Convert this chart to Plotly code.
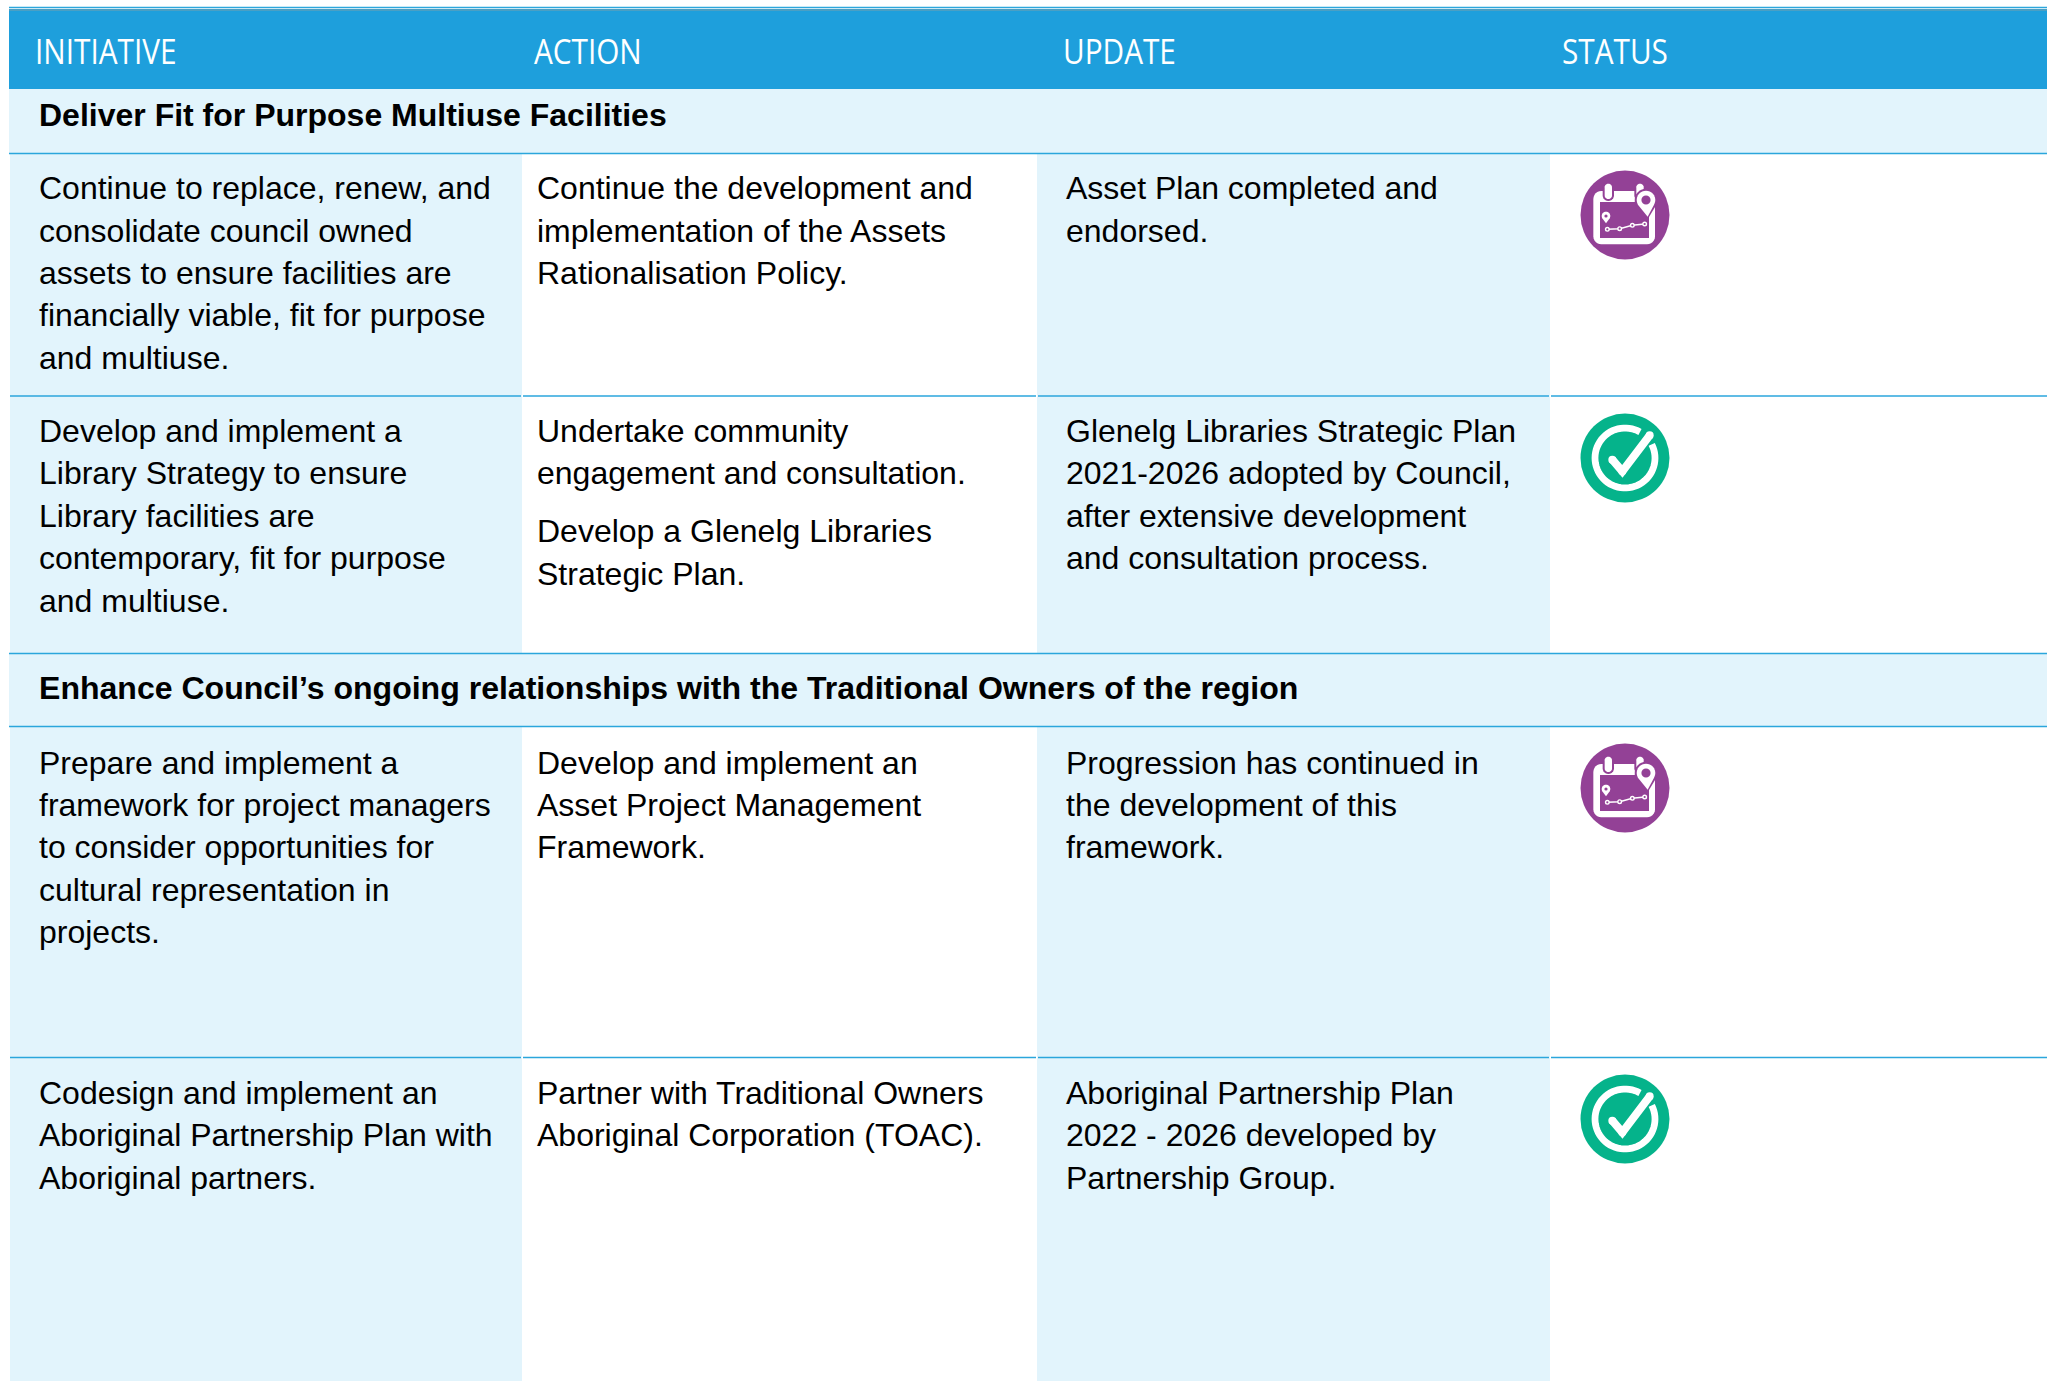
import math
import plotly.graph_objects as go

# ---- content ----
headers = ["INITIATIVE", "ACTION", "UPDATE", "STATUS"]
section_titles = ["Deliver Fit for Purpose Multiuse Facilities",
                  "Enhance Council’s ongoing relationships with the Traditional Owners of the region"]
initiatives = [
    ["Continue to replace, renew, and", "consolidate council owned", "assets to ensure facilities are",
     "financially viable, fit for purpose", "and multiuse."],
    ["Develop and implement a", "Library Strategy to ensure", "Library facilities are",
     "contemporary, fit for purpose", "and multiuse."],
    ["Prepare and implement a", "framework for project managers", "to consider opportunities for",
     "cultural representation in", "projects."],
    ["Codesign and implement an", "Aboriginal Partnership Plan with", "Aboriginal partners."],
]
actions = [
    ["Continue the development and", "implementation of the Assets", "Rationalisation Policy."],
    ["Undertake community", "engagement and consultation.", "", "Develop a Glenelg Libraries", "Strategic Plan."],
    ["Develop and implement an", "Asset Project Management", "Framework."],
    ["Partner with Traditional Owners", "Aboriginal Corporation (TOAC)."],
]
updates = [
    ["Asset Plan completed and", "endorsed."],
    ["Glenelg Libraries Strategic Plan", "2021-2026 adopted by Council,", "after extensive development",
     "and consultation process."],
    ["Progression has continued in", "the development of this", "framework."],
    ["Aboriginal Partnership Plan", "2022 - 2026 developed by", "Partnership Group."],
]
statuses = ["planned", "done", "planned", "done"]

# ---- layout constants ----
W, H = 2047, 1381
BLUE, LIGHT, RULE = "#1e9fdc", "#e2f4fc", "#2ba6dc"
PURPLE, GREEN = "#934196", "#05b38b"
col_edges = [10, 522, 1037, 1550]
text_x = [39, 537, 1066]
header_x = [35, 534, 1063, 1562]
row_tops = [153.5, 396, 726.5, 1057.5]
row_bottoms = [396, 653.5, 1057.5, H]
first_line = [188.2, 431, 762.5, 1092.7]
icon_y = [215, 458, 788, 1119]
ICON_X = 1625
LINE_H = 42.4
PARA_GAP = 15.5

shapes, annos = [], []


def rect(x0, y0, x1, y1, fill):
    shapes.append(dict(type="rect", x0=x0, y0=y0, x1=x1, y1=y1, fillcolor=fill, line_width=0, layer="below"))


def line(x0, x1, y, w=1.3):
    shapes.append(dict(type="line", x0=x0, x1=x1, y0=y, y1=y, line=dict(color=RULE, width=w), layer="below"))


def circle(cx, cy, r, fill):
    shapes.append(dict(type="circle", x0=cx - r, x1=cx + r, y0=cy - r, y1=cy + r, fillcolor=fill, line_width=0))


def poly(pts, color, width=None, fill=None):
    p = "M" + " L".join(f"{x:.2f},{y:.2f}" for x, y in pts)
    if fill:
        shapes.append(dict(type="path", path=p + " Z", fillcolor=fill, line_width=0))
    else:
        shapes.append(dict(type="path", path=p, line=dict(color=color, width=width)))


def rrect(x0, y0, x1, y1, r, fill):
    pts = []
    for cx, cy, a in [(x1 - r, y0 + r, -90), (x1 - r, y1 - r, 0), (x0 + r, y1 - r, 90), (x0 + r, y0 + r, 180)]:
        for k in range(7):
            t = math.radians(a + 15 * k)
            pts.append((cx + r * math.cos(t), cy + r * math.sin(t)))
    poly(pts, None, fill=fill)


def pin(cx, cy, r, tip, fill, hole):
    pts = []
    for k in range(21):
        t = math.radians(150 + 240 * k / 20)
        pts.append((cx + r * math.cos(t), cy + r * math.sin(t)))
    pts.append(tip)
    poly(pts, None, fill=fill)
    if hole:
        circle(cx, cy, hole, PURPLE)


def label(x, y, s, size, color="#000000", family="Liberation Sans", bold=False):
    annos.append(dict(x=x, y=y, text=f"<b>{s}</b>" if bold else s, xanchor="left", yanchor="middle",
                      showarrow=False, borderpad=0, borderwidth=0,
                      font=dict(size=size, color=color, family=family)))


def planned_icon(cx, cy):
    circle(cx, cy, 44.5, PURPLE)
    u = lambda x, y: (cx + (x - 150) / 3, cy + (y - 147) / 3)
    x0, y0 = u(55, 75); x1, y1 = u(240, 235)
    rrect(x0, y0, x1, y1, 8, "#ffffff")
    x0, y0 = u(75, 108); x1, y1 = u(222, 216)
    poly([(x0, y0), (x1, y0), (x1, y1), (x0, y1)], None, fill=PURPLE)
    for zx in (100, 195):
        x0, y0 = u(zx - 17, 47); x1, y1 = u(zx + 17, 105)
        rrect(x0, y0, x1, y1, 5.6, PURPLE)
        x0, y0 = u(zx - 11, 53); x1, y1 = u(zx + 11, 99)
        rrect(x0, y0, x1, y1, 3.6, "#ffffff")
    # big pin
    c = u(213, 102)
    pin(c[0], c[1], 11.3, u(218, 160), PURPLE, 0)
    pin(c[0], c[1], 9.3, u(218, 152), "#ffffff", 4.6)
    # small pin
    c = u(93, 150)
    pin(c[0], c[1], 4.3, u(93, 172), "#ffffff", 1.6)
    # route
    pts = [u(97, 190), u(134, 188), u(172, 178), u(209, 174)]
    poly(pts, "#ffffff", 1.5)
    for p in pts:
        circle(p[0], p[1], 2.5, "#ffffff")
        circle(p[0], p[1], 1.1, PURPLE)


def done_icon(cx, cy):
    circle(cx, cy, 44.5, GREEN)
    pts = []
    for k in range(61):
        t = math.radians(60 + (387 - 60) * k / 60)
        pts.append((cx + 30 * math.cos(t), cy - 30 * math.sin(t)))
    poly(pts, "#ffffff", 6.8)
    u = lambda x, y: (cx + (x - 254) / 3, cy + (y - 187) / 3)
    chk = [u(216, 192), u(246, 227), u(328, 119)]
    poly(chk, "#ffffff", 8)
    for p in chk:
        circle(p[0], p[1], 4, "#ffffff")


# ---- backgrounds ----
rect(9, 9, W, 89, BLUE)
rect(9, 9, W, 11, "#4a9fc4")
line(9, W, 7.5, 1.5)
rect(9, 89, W, 153.5, LIGHT)
rect(9, 653.5, W, 726.5, LIGHT)
for top, bottom in zip(row_tops, row_bottoms):
    rect(col_edges[0], top, col_edges[1], bottom, LIGHT)
    rect(col_edges[2], top, col_edges[3], bottom, LIGHT)
line(9, W, 153.5)
line(9, W, 726.5)
line(9, W, 653.5)
for y in (396, 1057.5):
    line(10, 521, y)
    line(523, 1036, y)
    line(1038, 1549, y)
    line(1551, W, y)

# ---- text ----
for x, h in zip(header_x, headers):
    label(x, 50, h, 35, "#ffffff", "Open Sans")
label(39, 115, section_titles[0], 32, bold=True)
label(39, 688, section_titles[1], 32.05, bold=True)

for tx, column in zip(text_x, (initiatives, actions, updates)):
    for y0, lines in zip(first_line, column):
        y = y0
        for s in lines:
            if s == "":
                y += PARA_GAP
                continue
            label(tx, y, s, 32)
            y += LINE_H

# ---- status icons ----
for s, y in zip(statuses, icon_y):
    (planned_icon if s == "planned" else done_icon)(ICON_X, y)

fig = go.Figure()
fig.update_layout(
    width=W, height=H, margin=dict(l=0, r=0, t=0, b=0), autosize=False,
    paper_bgcolor="#ffffff", plot_bgcolor="#ffffff", showlegend=False,
    xaxis=dict(range=[0, W], visible=False, fixedrange=True),
    yaxis=dict(range=[H, 0], visible=False, fixedrange=True),
    shapes=shapes, annotations=annos,
)
# narrow the column headings, which use a condensed face in the reference
post = """
document.body.style.margin='0';
document.querySelectorAll('.annotation-text').forEach(function(t){
  if (['INITIATIVE','ACTION','UPDATE','STATUS'].indexOf(t.textContent) >= 0) {
    t.style.transformBox = 'fill-box';
    t.style.transformOrigin = 'left center';
    t.style.transform = 'scaleX(0.85)';
  }
});
"""
fig.write_html("out.html", config=dict(displayModeBar=False), post_script=post)
